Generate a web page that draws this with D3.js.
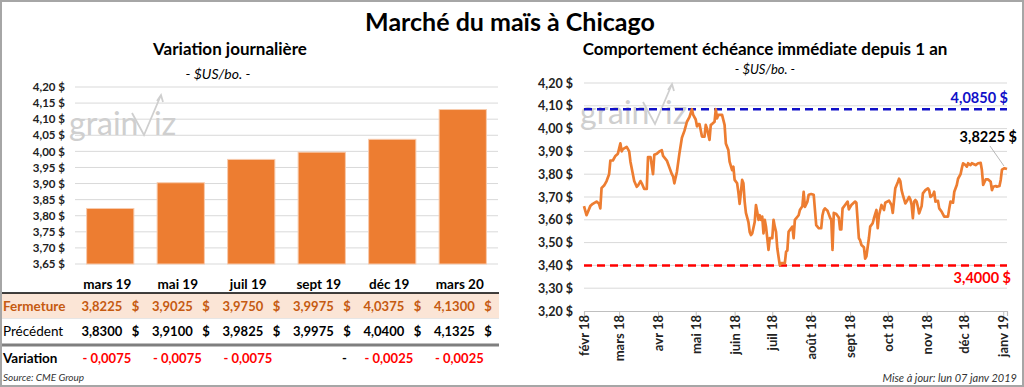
<!DOCTYPE html>
<html>
<head>
<meta charset="utf-8">
<script src="https://cdn.jsdelivr.net/npm/d3@7"></script>
<style>
  body { margin: 0; background: #fff; }
  text { font-family: Lato, "Open Sans", sans-serif; }
</style>
</head>
<body>
<div id="chart"></div>
<script>
// Data - left chart (contracts)
const contracts = ["mars 19", "mai 19", "juil 19", "sept 19", "déc 19", "mars 20"];
const closes   = [3.8225, 3.9025, 3.9750, 3.9975, 4.0375, 4.1300];
const previous = [3.8300, 3.9100, 3.9825, 3.9975, 4.0400, 4.1325];
const changes  = [-0.0075, -0.0075, -0.0075, 0, -0.0025, -0.0025];
const leftTicks = [3.65, 3.70, 3.75, 3.80, 3.85, 3.90, 3.95, 4.00, 4.05, 4.10, 4.15, 4.20];

// Data - right chart (front month, 1 year)
const rightTicks = [3.20, 3.30, 3.40, 3.50, 3.60, 3.70, 3.80, 3.90, 4.00, 4.10, 4.20];
const monthTicks = ["2018-02-01", "2018-03-01", "2018-04-01", "2018-05-01", "2018-06-01", "2018-07-01",
  "2018-08-01", "2018-09-01", "2018-10-01", "2018-11-01", "2018-12-01", "2019-01-01"];
const monthLabels = ["févr 18", "mars 18", "avr 18", "mai 18", "juin 18", "juil 18",
  "août 18", "sept 18", "oct 18", "nov 18", "déc 18", "janv 19"];

const dates = [
  "2018-02-01","2018-02-03","2018-02-06","2018-02-08","2018-02-11","2018-02-13","2018-02-14","2018-02-15",
  "2018-02-17","2018-02-19","2018-02-21","2018-02-22","2018-02-24","2018-02-26","2018-02-28","2018-03-02",
  "2018-03-03","2018-03-04","2018-03-07","2018-03-09","2018-03-10","2018-03-13","2018-03-15","2018-03-16",
  "2018-03-18","2018-03-19","2018-03-21","2018-03-23","2018-03-24","2018-03-26","2018-03-28","2018-03-29",
  "2018-03-31","2018-04-02","2018-04-04","2018-04-05","2018-04-08","2018-04-10","2018-04-12","2018-04-13",
  "2018-04-14","2018-04-16","2018-04-18","2018-04-20","2018-04-22","2018-04-24","2018-04-26","2018-04-28",
  "2018-04-29","2018-05-01","2018-05-02","2018-05-03","2018-05-04","2018-05-06","2018-05-08","2018-05-09",
  "2018-05-10","2018-05-12","2018-05-13","2018-05-14","2018-05-16","2018-05-17","2018-05-18","2018-05-19",
  "2018-05-22","2018-05-24","2018-05-25","2018-05-27","2018-05-28","2018-05-30","2018-05-31","2018-06-01",
  "2018-06-03","2018-06-04","2018-06-05","2018-06-06","2018-06-07","2018-06-08","2018-06-09","2018-06-10",
  "2018-06-12","2018-06-13","2018-06-14","2018-06-15","2018-06-17","2018-06-18","2018-06-19","2018-06-20",
  "2018-06-21","2018-06-22","2018-06-23","2018-06-24","2018-06-25","2018-06-26","2018-06-27","2018-06-28",
  "2018-06-29","2018-07-01","2018-07-02","2018-07-03","2018-07-04","2018-07-05","2018-07-07","2018-07-08",
  "2018-07-11","2018-07-12","2018-07-13","2018-07-14","2018-07-16","2018-07-17","2018-07-18","2018-07-19",
  "2018-07-22","2018-07-23","2018-07-25","2018-07-26","2018-07-27","2018-07-29","2018-07-30","2018-08-01",
  "2018-08-03","2018-08-04","2018-08-05","2018-08-07","2018-08-09","2018-08-10","2018-08-11","2018-08-12",
  "2018-08-14","2018-08-15","2018-08-16","2018-08-17","2018-08-18","2018-08-19","2018-08-21","2018-08-23",
  "2018-08-24","2018-08-25","2018-08-26","2018-08-28","2018-08-30","2018-08-31","2018-09-02","2018-09-05",
  "2018-09-06","2018-09-08","2018-09-09","2018-09-10","2018-09-12","2018-09-13","2018-09-14","2018-09-16",
  "2018-09-17","2018-09-19","2018-09-20","2018-09-22","2018-09-23","2018-09-24","2018-09-26","2018-09-28",
  "2018-09-29","2018-10-02","2018-10-04","2018-10-05","2018-10-07","2018-10-09","2018-10-10","2018-10-11",
  "2018-10-12","2018-10-13","2018-10-15","2018-10-16","2018-10-18","2018-10-19","2018-10-20","2018-10-21",
  "2018-10-22","2018-10-23","2018-10-24","2018-10-25","2018-10-26","2018-10-28","2018-10-29","2018-10-31",
  "2018-11-02","2018-11-03","2018-11-04","2018-11-06","2018-11-07","2018-11-08","2018-11-10","2018-11-11",
  "2018-11-13","2018-11-15","2018-11-18","2018-11-19","2018-11-20","2018-11-22","2018-11-23","2018-11-25",
  "2018-11-26","2018-11-28","2018-11-29","2018-11-30","2018-12-02","2018-12-03","2018-12-04","2018-12-06",
  "2018-12-07","2018-12-10","2018-12-12","2018-12-14","2018-12-15","2018-12-16","2018-12-18","2018-12-20",
  "2018-12-22","2018-12-23","2018-12-24","2018-12-26","2018-12-27","2018-12-29","2018-12-30","2018-12-31",
  "2019-01-02","2019-01-04"
];
const prices = [
  3.66, 3.62, 3.66, 3.67, 3.68, 3.67, 3.65, 3.74,
  3.75, 3.77, 3.80, 3.86, 3.86, 3.88, 3.89, 3.935,
  3.90, 3.91, 3.92, 3.90, 3.855, 3.77, 3.745, 3.75,
  3.77, 3.76, 3.735, 3.735, 3.875, 3.875, 3.80, 3.885,
  3.89, 3.90, 3.905, 3.88, 3.86, 3.83, 3.80, 3.79,
  3.76, 3.81, 3.89, 3.96, 3.99, 4.03, 4.05, 4.085,
  4.06, 4.04, 4.01, 4.02, 4.02, 3.965, 3.965, 4.016,
  4.00, 3.95, 4.016, 4.02, 4.03, 4.085, 4.045, 4.06,
  4.06, 4.016, 3.935, 3.906, 3.855, 3.818, 3.833, 3.775,
  3.76, 3.72, 3.67, 3.72, 3.775, 3.76, 3.68, 3.63,
  3.59, 3.547, 3.533, 3.54, 3.59, 3.665, 3.635, 3.60,
  3.62, 3.60, 3.614, 3.54, 3.60, 3.57, 3.52, 3.468,
  3.52, 3.52, 3.60, 3.57, 3.547, 3.475, 3.40, 3.41,
  3.41, 3.46, 3.465, 3.547, 3.563, 3.57, 3.52, 3.60,
  3.62, 3.643, 3.66, 3.723, 3.657, 3.68, 3.71, 3.713,
  3.71, 3.643, 3.577, 3.563, 3.563, 3.62, 3.643, 3.65,
  3.64, 3.625, 3.61, 3.60, 3.468, 3.63, 3.625, 3.61,
  3.558, 3.558, 3.65, 3.665, 3.68, 3.646, 3.665, 3.68,
  3.675, 3.519, 3.51, 3.49, 3.48, 3.43, 3.44, 3.52,
  3.57, 3.585, 3.607, 3.643, 3.563, 3.62, 3.665, 3.643,
  3.675, 3.684, 3.665, 3.63, 3.738, 3.765, 3.78, 3.77,
  3.73, 3.709, 3.672, 3.68, 3.70, 3.69, 3.665, 3.607,
  3.68, 3.687, 3.68, 3.657, 3.628, 3.66, 3.716, 3.73,
  3.738, 3.73, 3.70, 3.71, 3.723, 3.68, 3.683, 3.65,
  3.635, 3.614, 3.614, 3.65, 3.68, 3.675, 3.723, 3.753,
  3.78, 3.80, 3.826, 3.848, 3.84, 3.833, 3.848, 3.84,
  3.848, 3.84, 3.848, 3.85, 3.818, 3.753, 3.777, 3.777,
  3.767, 3.73, 3.745, 3.748, 3.745, 3.748, 3.775, 3.82,
  3.826, 3.8225
];
const yearHigh = 4.085;
const yearLow = 3.40;
const lastPrice = 3.8225;

// Helpers
const orange = "#ED7D31";
const grid = "#d9d9d9";
const parseDate = d3.timeParse("%Y-%m-%d");
const fr = (v, n) => v.toFixed(n).replace(".", ",");

const svg = d3.select("#chart")
  .append("svg")
  .attr("width", 1024)
  .attr("height", 387);

svg.append("rect")
  .attr("x", 1).attr("y", 1)
  .attr("width", 1022).attr("height", 385)
  .attr("fill", "#fff")
  .attr("stroke", "#a6a6a6")
  .attr("stroke-width", 2);

// Main title
svg.append("text")
  .attr("x", 510).attr("y", 31)
  .attr("text-anchor", "middle")
  .style("font-size", "25px").style("font-weight", "bold")
  .text("Marché du maïs à Chicago");

// Watermark
function watermark(x, y) {
  const g = svg.append("g").attr("transform", `translate(${x},${y})`);
  g.append("text")
    .attr("x", 0).attr("y", 0)
    .style("font-size", "32px").style("fill", "#cfcfcf")
    .text("grain");
  g.append("path")
    .attr("d", "M63,-22 L75,0 L92,-40 M88,-34 L92,-40 L94,-33")
    .attr("fill", "none").attr("stroke", "#cfcfcf").attr("stroke-width", 1.8);
  g.append("text")
    .attr("x", 85).attr("y", 0)
    .style("font-size", "32px").style("fill", "#cfcfcf")
    .text("iz");
}

// ---------- Left chart ----------
const xL = d3.scaleBand()
  .domain(contracts)
  .range([75, 498])
  .paddingInner(0.33)
  .paddingOuter(0.165);

const yL = d3.scaleLinear()
  .domain([3.65, 4.20])
  .range([264, 87]);

svg.append("text")
  .attr("x", 230).attr("y", 55)
  .attr("text-anchor", "middle")
  .style("font-size", "17px").style("font-weight", "bold")
  .text("Variation journalière");

svg.append("text")
  .attr("x", 218).attr("y", 79)
  .attr("text-anchor", "middle")
  .style("font-size", "14px").style("font-style", "italic")
  .text("- $US/bo. -");

svg.append("g")
  .selectAll("line")
  .data(leftTicks)
  .enter()
  .append("line")
  .attr("x1", 75).attr("x2", 498)
  .attr("y1", d => yL(d)).attr("y2", d => yL(d))
  .attr("stroke", grid).attr("stroke-width", 1);

watermark(69, 135);

svg.append("g")
  .attr("transform", "translate(75,0)")
  .call(d3.axisLeft(yL).tickValues(leftTicks).tickSize(0).tickPadding(10)
    .tickFormat(d => fr(d, 2) + " $"))
  .call(g => g.select(".domain").remove())
  .selectAll("text")
  .style("font-family", "Lato, sans-serif")
  .style("font-size", "11.5px").style("font-weight", "bold").style("fill", "#222");

svg.append("g")
  .selectAll("rect")
  .data(closes)
  .enter()
  .append("rect")
  .attr("x", (d, i) => xL(contracts[i]))
  .attr("y", d => yL(d))
  .attr("width", xL.bandwidth())
  .attr("height", d => yL(3.65) - yL(d))
  .attr("fill", orange)
  .attr("stroke", "#f8cbad").attr("stroke-width", 1);

// Table under the bars
const colX = c => xL(c) + xL.bandwidth() / 2;

svg.append("g")
  .selectAll("text")
  .data(contracts)
  .enter()
  .append("text")
  .attr("x", d => colX(d) - 3).attr("y", 289)
  .attr("text-anchor", "middle")
  .style("font-size", "13.5px").style("font-weight", "bold")
  .text(d => d);

svg.append("rect")
  .attr("x", 2).attr("y", 293)
  .attr("width", 497).attr("height", 25)
  .attr("fill", "#FBE5D6");
svg.append("line")
  .attr("x1", 2).attr("x2", 499).attr("y1", 293).attr("y2", 293)
  .attr("stroke", "#000").attr("stroke-width", 1.5);
svg.append("line")
  .attr("x1", 2).attr("x2", 499).attr("y1", 318.5).attr("y2", 318.5)
  .attr("stroke", "#e6e6e6").attr("stroke-width", 1);
svg.append("line")
  .attr("x1", 2).attr("x2", 499).attr("y1", 345).attr("y2", 345)
  .attr("stroke", "#7f7f7f").attr("stroke-width", 3);

const rows = [
  { label: "Fermeture", values: closes, y: 311, color: "#C55A11", labelWeight: "bold" },
  { label: "Précédent", values: previous, y: 336, color: "#000", labelWeight: "normal" }
];

rows.forEach(r => {
  svg.append("text")
    .attr("x", 3).attr("y", r.y)
    .style("font-size", "13.5px").style("font-weight", r.labelWeight)
    .style("fill", r.labelWeight === "bold" ? r.color : "#000")
    .text(r.label);
  svg.append("g")
    .selectAll("text")
    .data(r.values)
    .enter()
    .append("text")
    .attr("x", (d, i) => colX(contracts[i]) + 12).attr("y", r.y)
    .attr("text-anchor", "end")
    .style("font-size", "13px").style("font-weight", "bold").style("fill", r.color)
    .text(d => fr(d, 4));
  svg.append("g")
    .selectAll("text")
    .data(r.values)
    .enter()
    .append("text")
    .attr("x", (d, i) => colX(contracts[i]) + 29).attr("y", r.y)
    .attr("text-anchor", "end")
    .style("font-size", "13px").style("font-weight", "bold").style("fill", r.color)
    .text("$");
});

svg.append("text")
  .attr("x", 3).attr("y", 363)
  .style("font-size", "13.5px").style("font-weight", "bold")
  .text("Variation");

svg.append("g")
  .selectAll("text")
  .data(changes)
  .enter()
  .append("text")
  .attr("x", (d, i) => colX(contracts[i]) + (d === 0 ? 25 : 21)).attr("y", 363)
  .attr("text-anchor", "end")
  .style("font-size", "13px").style("font-weight", "bold")
  .style("fill", d => d === 0 ? "#000" : "#ff0000")
  .text(d => d === 0 ? "-" : (d < 0 ? "- " : "+ ") + fr(Math.abs(d), 4));

svg.append("text")
  .attr("x", 3).attr("y", 381)
  .style("font-size", "10px").style("font-style", "italic").style("fill", "#333")
  .text("Source: CME Group");

// ---------- Right chart ----------
const series = dates.map((d, i) => ({ date: parseDate(d), value: prices[i] }));

const xR = d3.scaleTime()
  .domain([parseDate("2018-02-01"), parseDate("2019-01-04")])
  .range([584, 1007]);

const yR = d3.scaleLinear()
  .domain([3.20, 4.20])
  .range([311, 83]);

svg.append("text")
  .attr("x", 765).attr("y", 55)
  .attr("text-anchor", "middle")
  .style("font-size", "17px").style("font-weight", "bold")
  .text("Comportement échéance immédiate depuis 1 an");

svg.append("text")
  .attr("x", 765).attr("y", 74)
  .attr("text-anchor", "middle")
  .style("font-size", "13px").style("font-style", "italic")
  .text("- $US/bo. -");

svg.append("g")
  .selectAll("line")
  .data(rightTicks.slice(1))
  .enter()
  .append("line")
  .attr("x1", 584).attr("x2", 1007)
  .attr("y1", d => yR(d)).attr("y2", d => yR(d))
  .attr("stroke", grid).attr("stroke-width", 1);

watermark(580, 124);

svg.append("g")
  .attr("transform", "translate(584,0)")
  .call(d3.axisLeft(yR).tickValues(rightTicks).tickSize(0).tickPadding(11)
    .tickFormat(d => fr(d, 2) + " $"))
  .call(g => g.select(".domain").remove())
  .selectAll("text")
  .style("font-family", "Lato, sans-serif")
  .style("font-size", "12.5px").style("font-weight", "bold").style("fill", "#222");

const xAxis = svg.append("g")
  .attr("transform", `translate(0,${yR(3.20)})`)
  .call(d3.axisBottom(xR)
    .tickValues(monthTicks.map(parseDate))
    .tickSize(5)
    .tickFormat((d, i) => monthLabels[i]));

xAxis.select(".domain").attr("stroke", "#bfbfbf").attr("stroke-width", 1.2);
xAxis.selectAll(".tick line").attr("stroke", "#bfbfbf");
xAxis.selectAll("text")
  .attr("transform", "rotate(-90)")
  .attr("text-anchor", "end")
  .attr("x", -4).attr("y", 0).attr("dy", "0.35em")
  .style("font-family", "Lato, sans-serif")
  .style("font-size", "13px").style("font-weight", "bold").style("fill", "#222");

// High / low reference lines
svg.append("line")
  .attr("x1", 584).attr("x2", 1007)
  .attr("y1", yR(yearHigh)).attr("y2", yR(yearHigh))
  .attr("stroke", "#1010c8").attr("stroke-width", 2.5)
  .attr("stroke-dasharray", "8,5");
svg.append("text")
  .attr("x", 1008).attr("y", yR(yearHigh) - 6)
  .attr("text-anchor", "end")
  .style("font-size", "14.5px").style("font-weight", "bold").style("fill", "#1010c8")
  .text(fr(yearHigh, 4) + " $");

svg.append("line")
  .attr("x1", 584).attr("x2", 1007)
  .attr("y1", yR(yearLow)).attr("y2", yR(yearLow))
  .attr("stroke", "#ff0000").attr("stroke-width", 2.5)
  .attr("stroke-dasharray", "8,5");
svg.append("text")
  .attr("x", 1011).attr("y", yR(yearLow) + 18)
  .attr("text-anchor", "end")
  .style("font-size", "14.5px").style("font-weight", "bold").style("fill", "#ff0000")
  .text(fr(yearLow, 4) + " $");

// Price line
const line = d3.line()
  .x(d => xR(d.date))
  .y(d => yR(d.value));

svg.append("path")
  .datum(series)
  .attr("d", line)
  .attr("fill", "none")
  .attr("stroke", orange)
  .attr("stroke-width", 2.7)
  .attr("stroke-linejoin", "round");

// Last value label with leader
const lastPt = series[series.length - 1];
svg.append("line")
  .attr("x1", 990).attr("y1", 146)
  .attr("x2", xR(lastPt.date) - 3).attr("y2", yR(lastPt.value) - 3)
  .attr("stroke", "#a6a6a6").attr("stroke-width", 0.8);
svg.append("text")
  .attr("x", 1017).attr("y", 142)
  .attr("text-anchor", "end")
  .style("font-size", "14.5px").style("font-weight", "bold")
  .text(fr(lastPrice, 4) + " $");

svg.append("text")
  .attr("x", 1017).attr("y", 382)
  .attr("text-anchor", "end")
  .style("font-size", "11px").style("font-style", "italic").style("fill", "#333")
  .text("Mise à jour: lun 07 janv 2019");
</script>
</body>
</html>
